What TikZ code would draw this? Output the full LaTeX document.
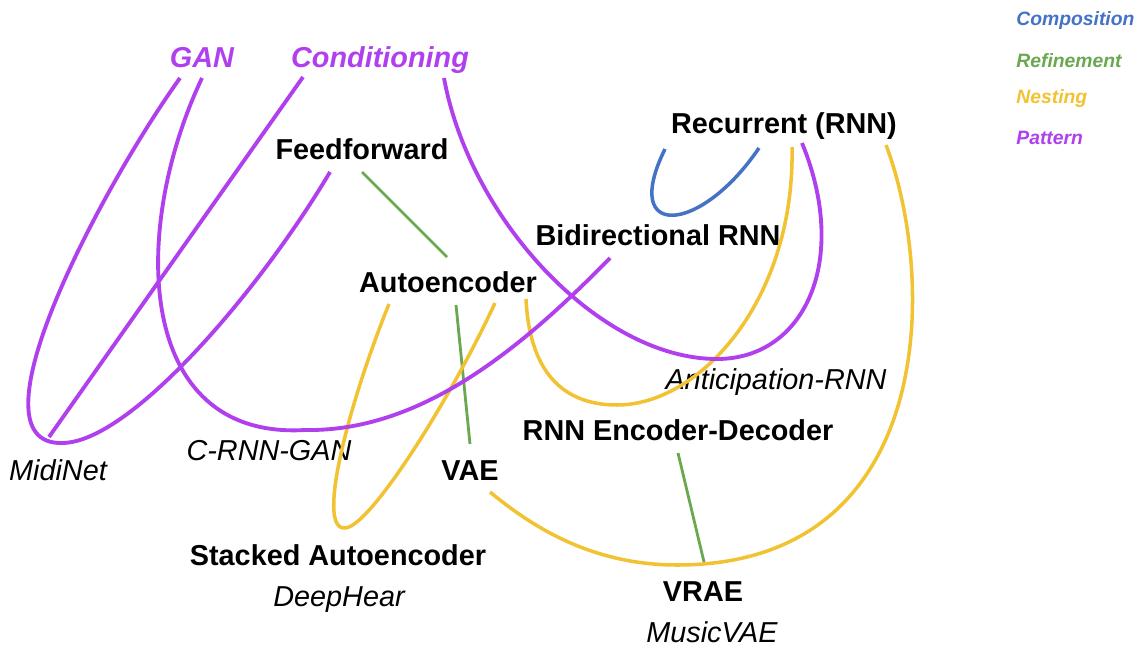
\documentclass[tikz,border=0pt]{standalone}
\usepackage{fontspec}
\setmainfont{Liberation Sans}
\definecolor{cpurple}{HTML}{B040EE}
\definecolor{cblue}{HTML}{4472C4}
\definecolor{cgreen}{HTML}{6AA84F}
\definecolor{cyellow}{HTML}{F1C232}
\begin{document}
\begin{tikzpicture}[x=0.02cm,y=-0.02cm,
  lab/.style={anchor=base, inner sep=0pt, font=\fontsize{16.4}{20}\selectfont},
  arch/.style={lab, font=\fontsize{16.4}{20}\selectfont\bfseries},
  inst/.style={lab, font=\fontsize{16.4}{20}\selectfont\itshape},
  pat/.style={lab, text=cpurple, font=\fontsize{16.4}{20}\selectfont\bfseries\itshape},
  leg/.style={anchor=base west, inner sep=0pt, font=\fontsize{11}{13}\selectfont\bfseries\itshape},
  pline/.style={draw=cpurple, line width=2.2pt},
  yline/.style={draw=cyellow, line width=2pt},
  gline/.style={draw=cgreen, line width=1.6pt},
  bline/.style={draw=cblue, line width=2pt}]
\useasboundingbox (0,0) rectangle (1141,648);
% labels
\node[pat] (gan) at (202,68) {GAN};
\node[pat] (cond) at (380,68) {Conditioning};
\node[arch] (ff) at (362,160) {Feedforward};
\node[arch] (rnn) at (784,134) {Recurrent (RNN)};
\node[arch] (bidir) at (658,246) {Bidirectional RNN};
\node[arch] (ae) at (448,293) {Autoencoder};
\node[inst] (antic) at (776,389) {Anticipation-RNN};
\node[arch] (encdec) at (678,440) {RNN Encoder-Decoder};
\node[inst] (crnngan) at (269,460) {C-RNN-GAN};
\node[inst] (midinet) at (58,480) {MidiNet};
\node[arch] (vae) at (470,480) {VAE};
\node[arch] (sae) at (338,565) {Stacked Autoencoder};
\node[inst] (deephear) at (339,606) {DeepHear};
\node[arch] (vrae) at (703,601) {VRAE};
\node[inst] (musicvae) at (712,642) {MusicVAE};
% legend
\node[leg, text=cblue] (lcomp) at (1016,26) {Composition};
\node[leg, text=cgreen] (lref) at (1016,68) {Refinement};
\node[leg, text=cyellow] (lnest) at (1016,104) {Nesting};
\node[leg, text=cpurple] (lpat) at (1016,145) {Pattern};
% endpoints
\coordinate (ganL) at (180,78);
\coordinate (ganR) at (202,78);
\coordinate (condL) at (303,77);
\coordinate (condR) at (444,78);
\coordinate (ffP) at (330,172);
\coordinate (ffG) at (362,172);
\coordinate (aeTop) at (447,257);
\coordinate (aeA) at (389,304);
\coordinate (aeG) at (456,305);
\coordinate (aeB) at (495,303);
\coordinate (aeC) at (526,299);
\coordinate (vaeTop) at (470,444);
\coordinate (vaeR) at (490,492);
\coordinate (rnnB1) at (665,149);
\coordinate (rnnB2) at (759,148);
\coordinate (rnnY1) at (792,147);
\coordinate (rnnP) at (802,143);
\coordinate (rnnY2) at (886,145);
\coordinate (bidirP) at (610,258);
\coordinate (edB) at (678,453);
\coordinate (vraeT) at (704,562);
\coordinate (midB) at (62,443);
\coordinate (midT) at (49,437);
\coordinate (crgB) at (305,430);
\coordinate (antB) at (717,359);
\coordinate (saeB) at (345,528);
\coordinate (edY) at (617,405);
\coordinate (vraeY) at (677,565);
% composition
\draw[bline] (rnnB1) .. controls (620,240) and (700,235) .. (rnnB2);
% refinement
\draw[gline] (ffG) -- (aeTop);
\draw[gline] (aeG) -- (vaeTop);
\draw[gline] (edB) -- (vraeT);
% nesting
\draw[yline] (aeA) .. controls (350,400) and (315,530) .. (saeB)
  .. controls (370,527) and (450,400) .. (aeB);
\draw[yline] (aeC) .. controls (530,380) and (570,405) .. (edY)
  .. controls (700,405) and (795,300) .. (rnnY1);
\draw[yline] (rnnY2) .. controls (937,280) and (937,565) .. (vraeY)
  .. controls (590,565) and (530,525) .. (vaeR);
% pattern
\draw[pline] (ganL) .. controls (100,190) and (-35,445) .. (midB)
  .. controls (130,443) and (260,290) .. (ffP);
\draw[pline] (condL) -- (midT);
\draw[pline] (ganR) .. controls (130,230) and (135,440) .. (crgB)
  .. controls (420,432) and (520,350) .. (bidirP);
\draw[pline] (condR) .. controls (470,220) and (600,359) .. (antB)
  .. controls (805,359) and (850,260) .. (rnnP);
\end{tikzpicture}
\end{document}
